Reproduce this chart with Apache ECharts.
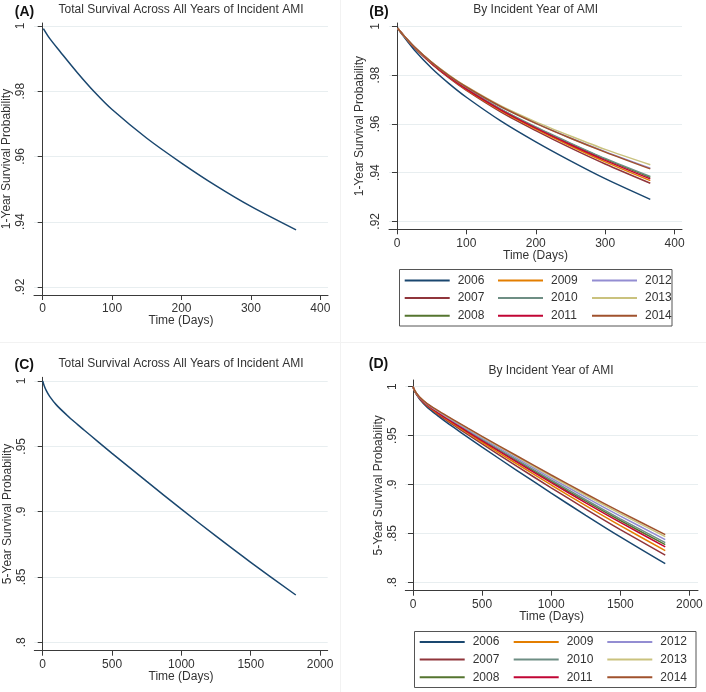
<!DOCTYPE html>
<html><head><meta charset="utf-8">
<script src="https://cdn.jsdelivr.net/npm/echarts@6/dist/echarts.min.js"></script>
<style>html,body{margin:0;padding:0;background:#fff}#c{width:706px;height:692px}</style>
</head><body><div id="c"></div>
<script>
// ---------- data ----------
const years = ['2006','2007','2008','2009','2010','2011','2012','2013','2014'];
const yearColors = ['#1a476f','#90353b','#55752f','#e37e00','#6e8e84','#c10534','#938dd2','#cac27e','#a0522d'];

const xTicks1 = [0, 100, 200, 300, 400];
const yTicks1 = [0.92, 0.94, 0.96, 0.98, 1];
const xTicks5 = [0, 500, 1000, 1500, 2000];
const yTicks5 = [0.8, 0.85, 0.9, 0.95, 1];

// 1-year follow-up (days)
const days1 = [1, 10, 25, 50, 75, 100, 150, 200, 250, 300, 365];
const overall1 = [0.9992, 0.9962, 0.9922, 0.9857, 0.9797, 0.9744, 0.9656, 0.9580, 0.9510, 0.9447, 0.9375];
const s1_2006 = [0.9992, 0.9957, 0.9903, 0.9828, 0.9765, 0.9709, 0.9611, 0.9526, 0.9448, 0.9375, 0.9290];
const s1_2007 = [0.9992, 0.9961, 0.9913, 0.9846, 0.9788, 0.9737, 0.9648, 0.9572, 0.9501, 0.9435, 0.9356];
const s1_2008 = [0.9992, 0.9961, 0.9914, 0.9848, 0.9793, 0.9744, 0.9658, 0.9585, 0.9518, 0.9455, 0.9380];
const s1_2009 = [0.9992, 0.9961, 0.9914, 0.9847, 0.9791, 0.9740, 0.9653, 0.9578, 0.9509, 0.9444, 0.9367];
const s1_2010 = [0.9992, 0.9961, 0.9914, 0.9849, 0.9794, 0.9745, 0.9660, 0.9587, 0.9521, 0.9458, 0.9384];
const s1_2011 = [0.9992, 0.9961, 0.9914, 0.9848, 0.9792, 0.9742, 0.9656, 0.9582, 0.9514, 0.9450, 0.9374];
const s1_2012 = [0.9992, 0.9961, 0.9916, 0.9852, 0.9798, 0.9751, 0.9670, 0.9603, 0.9542, 0.9486, 0.9418];
const s1_2013 = [0.9992, 0.9961, 0.9916, 0.9853, 0.9800, 0.9753, 0.9673, 0.9608, 0.9550, 0.9495, 0.9432];
const s1_2014 = [0.9992, 0.9961, 0.9916, 0.9852, 0.9798, 0.9751, 0.9670, 0.9602, 0.9541, 0.9484, 0.9415];

// 5-year follow-up (days)
const days5 = [0, 10, 25, 50, 100, 175, 250, 300, 400, 500, 750, 1000, 1250, 1500, 1825];
const overall5 = [1.0, 0.9965, 0.9928, 0.9882, 0.9815, 0.9738, 0.9668, 0.9623, 0.9534, 0.9446, 0.9231, 0.9019, 0.8812, 0.8612, 0.8362];
const s5_2006 = [1.0, 0.9962, 0.9921, 0.9870, 0.9794, 0.9707, 0.9628, 0.9578, 0.9479, 0.9382, 0.9145, 0.8912, 0.8685, 0.8464, 0.8190];
const s5_2007 = [1.0, 0.9963, 0.9925, 0.9876, 0.9805, 0.9723, 0.9648, 0.9601, 0.9507, 0.9415, 0.9188, 0.8966, 0.8749, 0.8539, 0.8277];
const s5_2008 = [1.0, 0.9965, 0.9929, 0.9884, 0.9818, 0.9742, 0.9673, 0.9629, 0.9541, 0.9455, 0.9243, 0.9033, 0.8829, 0.8632, 0.8385];
const s5_2009 = [1.0, 0.9964, 0.9926, 0.9879, 0.9810, 0.9731, 0.9659, 0.9613, 0.9522, 0.9432, 0.9212, 0.8995, 0.8784, 0.8579, 0.8324];
const s5_2010 = [1.0, 0.9966, 0.9930, 0.9885, 0.9820, 0.9746, 0.9678, 0.9634, 0.9548, 0.9462, 0.9253, 0.9046, 0.8844, 0.8649, 0.8405];
const s5_2011 = [1.0, 0.9965, 0.9928, 0.9882, 0.9815, 0.9738, 0.9668, 0.9623, 0.9534, 0.9446, 0.9231, 0.9019, 0.8813, 0.8613, 0.8363];
const s5_2012 = [1.0, 0.9967, 0.9931, 0.9887, 0.9824, 0.9752, 0.9685, 0.9643, 0.9558, 0.9474, 0.9269, 0.9066, 0.8868, 0.8677, 0.8437];
const s5_2013 = [1.0, 0.9967, 0.9932, 0.9889, 0.9828, 0.9757, 0.9692, 0.9650, 0.9568, 0.9485, 0.9284, 0.9084, 0.8890, 0.8702, 0.8467];
const s5_2014 = [1.0, 0.9968, 0.9933, 0.9891, 0.9830, 0.9761, 0.9697, 0.9656, 0.9574, 0.9493, 0.9294, 0.9097, 0.8905, 0.8720, 0.8488];

const byYear1 = [s1_2006, s1_2007, s1_2008, s1_2009, s1_2010, s1_2011, s1_2012, s1_2013, s1_2014];
const byYear5 = [s5_2006, s5_2007, s5_2008, s5_2009, s5_2010, s5_2011, s5_2012, s5_2013, s5_2014];

// ---------- chart ----------
const FONT = '"Liberation Sans", Arial, sans-serif';
const TXT = '#333';
const pair = (xs, ys) => xs.map((x, i) => [x, ys[i]]);
const yFmt = v => (Math.abs(v - 1) < 1e-9 ? '1' : v.toFixed(2).replace(/^0/, '').replace(/0$/, ''));
const xFmt = v => String(Math.round(v));

function xAx(grid, min, max, ticks) {
  return {
    type: 'value', gridIndex: grid, min: min, max: max,
    name: 'Time (Days)', nameLocation: 'middle', nameGap: 20, nameMoveOverlap: false,
    nameTextStyle: { fontSize: 12, color: TXT, fontFamily: FONT },
    axisLine: { show: true, lineStyle: { color: '#3a3a3a', width: 1 } },
    axisTick: { show: true, length: 5, customValues: ticks, lineStyle: { color: '#3a3a3a' } },
    axisLabel: { customValues: ticks, fontSize: 12, color: TXT, fontFamily: FONT, margin: 8, formatter: xFmt },
    splitLine: { show: false }
  };
}
function yAx(grid, min, max, ticks, name, gap) {
  return {
    type: 'value', gridIndex: grid, min: min, max: max,
    name: name, nameLocation: 'middle', nameGap: gap, nameMoveOverlap: false,
    nameTextStyle: { fontSize: 12, color: TXT, fontFamily: FONT },
    axisLine: { show: true, lineStyle: { color: '#3a3a3a', width: 1 } },
    axisTick: { show: true, length: 5, customValues: ticks, lineStyle: { color: '#3a3a3a' } },
    axisLabel: { customValues: ticks, rotate: 90, fontSize: 12, color: TXT, fontFamily: FONT, margin: 7, formatter: yFmt },
    splitLine: { show: true, lineStyle: { color: '#e8eef0', width: 1 } }
  };
}
function lineSeries(name, grid, xs, ys, color) {
  return {
    type: 'line', name: name, xAxisIndex: grid, yAxisIndex: grid,
    data: pair(xs, ys), showSymbol: false, symbol: 'none', smooth: 0.3,
    lineStyle: { color: color, width: 1.5 }, itemStyle: { color: color },
    emphasis: { disabled: true }, animation: false
  };
}

const series = [];
series.push(lineSeries('Overall 1-year', 0, days1, overall1, '#1a476f'));
years.forEach((y, i) => series.push(lineSeries(y, 1, days1, byYear1[i], yearColors[i])));
series.push(lineSeries('Overall 5-year', 2, days5, overall5, '#1a476f'));
years.forEach((y, i) => series.push(lineSeries(y, 3, days5, byYear5[i], yearColors[i])));

function legendCol(left, top, names) {
  return {
    orient: 'vertical', left: left, top: top, padding: 0, itemGap: 5.6,
    itemWidth: 45, itemHeight: 2, icon: 'rect', data: names, selectedMode: false,
    textStyle: { fontSize: 12, color: TXT, fontFamily: FONT, padding: [0, 0, 0, 3] }
  };
}
const legendCols = [['2006','2007','2008'], ['2009','2010','2011'], ['2012','2013','2014']];

function txt(x, y, s, size, bold) {
  return { type: 'text', x: x, y: y, silent: true,
    style: { text: s, fontSize: size, fontWeight: bold ? 'bold' : 'normal', fontFamily: FONT, fill: bold ? '#111' : TXT,
      textAlign: 'center', textVerticalAlign: 'middle', align: 'center', verticalAlign: 'middle' } };
}

const option = {
  backgroundColor: '#fff',
  animation: false,
  grid: [
    { left: 34, top: 23, width: 294, height: 272 },
    { left: 389, top: 23, width: 293, height: 206.3 },
    { left: 34.3, top: 377.3, width: 293.4, height: 273.4 },
    { left: 405.3, top: 380, width: 292.7, height: 210.7 }
  ],
  xAxis: [
    xAx(0, -12.5, 411, xTicks1),
    xAx(1, -11.5, 410.7, xTicks1),
    xAx(2, -60.6, 2055, xTicks5),
    xAx(3, -55.7, 2062, xTicks5)
  ],
  yAxis: [
    yAx(0, 0.91755, 1.00092, yTicks1, '1-Year Survival Probability', 21),
    yAx(1, 0.91673, 1.00135, yTicks1, '1-Year Survival Probability', 23),
    yAx(2, 0.79357, 1.0028, yTicks5, '5-Year Survival Probability', 21),
    yAx(3, 0.7914, 1.00685, yTicks5, '5-Year Survival Probability', 21)
  ],
  legend: [
    legendCol(404.7, 274.5, legendCols[0]),
    legendCol(498, 274.5, legendCols[1]),
    legendCol(592, 274.5, legendCols[2]),
    legendCol(419.7, 636, legendCols[0]),
    legendCol(513.7, 636, legendCols[1]),
    legendCol(607.3, 636, legendCols[2])
  ],
  series: series,
  graphic: [
    { type: 'line', silent: true, shape: { x1: 340.5, y1: 0, x2: 340.5, y2: 692 }, style: { stroke: '#f2f2f2', lineWidth: 1 } },
    { type: 'line', silent: true, shape: { x1: 0, y1: 342.5, x2: 706, y2: 342.5 }, style: { stroke: '#f2f2f2', lineWidth: 1 } },
    { type: 'rect', silent: true, shape: { x: 399.5, y: 269.5, width: 272.5, height: 56.5 }, style: { fill: 'none', stroke: '#555', lineWidth: 1 } },
    { type: 'rect', silent: true, shape: { x: 414.5, y: 631.5, width: 281.5, height: 56 }, style: { fill: 'none', stroke: '#555', lineWidth: 1 } },
    txt(181, 10, 'Total Survival Across All Years of Incident AMI', 12, false),
    txt(535.7, 10, 'By Incident Year of AMI', 12, false),
    txt(181, 364, 'Total Survival Across All Years of Incident AMI', 12, false),
    txt(551, 370.7, 'By Incident Year of AMI', 12, false),
    txt(24.5, 12, '(A)', 14, true),
    txt(379, 12, '(B)', 14, true),
    txt(24.3, 365, '(C)', 14, true),
    txt(378.5, 364.5, '(D)', 14, true)
  ]
};

const chart = echarts.init(document.getElementById('c'), null, { renderer: 'canvas' });
chart.setOption(option);
</script>
</body></html>
